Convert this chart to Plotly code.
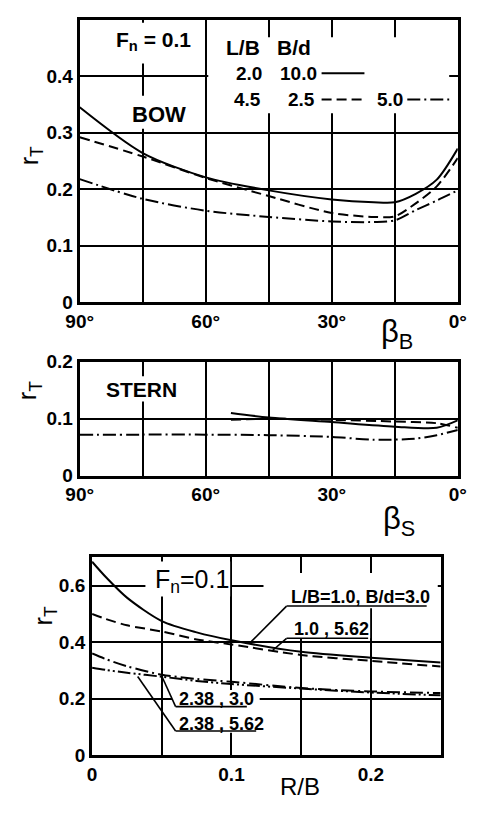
import plotly.graph_objects as go

# ---------------- data ----------------
beta_bow = [90, 75, 60, 45, 30, 20, 15, 10, 5, 0]
bow_solid = [0.345, 0.264, 0.221, 0.198, 0.182, 0.177, 0.177, 0.192, 0.217, 0.272]   # L/B=2.0, B/d=10.0
bow_dash = [0.292, 0.258, 0.220, 0.188, 0.158, 0.151, 0.152, 0.175, 0.205, 0.255]    # L/B=4.5, B/d=2.5
bow_dashdot = [0.218, 0.183, 0.162, 0.151, 0.143, 0.142, 0.145, 0.163, 0.180, 0.198] # L/B=4.5, B/d=5.0

beta_stern_a = [54, 45, 30, 15, 5, 0]
stern_solid = [0.110, 0.102, 0.094, 0.086, 0.084, 0.097]
stern_dash = [0.098, 0.100, 0.098, 0.095, 0.092, 0.084]
beta_stern_b = [90, 75, 60, 45, 30, 20, 10, 5, 0]
stern_dashdot = [0.072, 0.072, 0.072, 0.071, 0.068, 0.063, 0.065, 0.071, 0.080]

rb = [0, 0.01, 0.025, 0.05, 0.075, 0.1, 0.15, 0.2, 0.25]
rb_10_30 = [0.685, 0.630, 0.558, 0.475, 0.435, 0.407, 0.366, 0.345, 0.328]
rb_10_562 = [0.500, 0.482, 0.460, 0.438, 0.410, 0.392, 0.355, 0.334, 0.314]
rb_238_30 = [0.360, 0.340, 0.315, 0.285, 0.270, 0.260, 0.238, 0.226, 0.220]
rb_238_562 = [0.310, 0.302, 0.292, 0.278, 0.263, 0.252, 0.236, 0.222, 0.212]

beta_ticks = [90, 60, 30, 0]
beta_ticktext = ["90°", "60°", "30°", "0°"]
beta_minor = [75, 45, 15]
bow_yticks = [0, 0.1, 0.2, 0.3, 0.4]
bow_yticktext = ["0", "0.1", "0.2", "0.3", "0.4"]
stern_yticks = [0, 0.1, 0.2]
stern_yticktext = ["0", "0.1", "0.2"]
rb_xticks = [0, 0.1, 0.2]
rb_xticktext = ["0", "0.1", "0.2"]
rb_xminor = [0.05, 0.15]
rb_yticks = [0, 0.2, 0.4, 0.6]
rb_yticktext = ["0", "0.2", "0.4", "0.6"]

# ---------------- styling ----------------
W, H = 482, 813
FONT = "Liberation Sans, Arial, Helvetica, sans-serif"
DASH = "10px,5px"
DASHDOT = "13px,4px,2px,4px"
DASHDOTDOT = "13px,3px,2px,3px,2px,3px"
LW = 2


def px(x):
    return x / W


def py(y):
    return 1 - y / H


fig = go.Figure()


def add(x, y, dash, xa, ya):
    fig.add_trace(go.Scatter(x=x, y=y, mode="lines", xaxis=xa, yaxis=ya,
                             line=dict(color="black", width=LW, dash=dash, shape="spline", smoothing=0.8),
                             hoverinfo="skip"))


add(beta_bow, bow_solid, "solid", "x", "y")
add(beta_bow, bow_dash, DASH, "x", "y")
add(beta_bow, bow_dashdot, DASHDOT, "x", "y")
add(beta_stern_a, stern_solid, "solid", "x2", "y2")
add(beta_stern_a, stern_dash, DASH, "x2", "y2")
add(beta_stern_b, stern_dashdot, DASHDOT, "x2", "y2")
add(rb, rb_10_30, "solid", "x3", "y3")
add(rb, rb_10_562, DASH, "x3", "y3")
add(rb, rb_238_30, DASHDOT, "x3", "y3")
add(rb, rb_238_562, DASHDOTDOT, "x3", "y3")

axcommon = dict(showline=True, mirror=True, linecolor="black", linewidth=3,
                showgrid=True, gridcolor="black", gridwidth=2, zeroline=False,
                ticks="", tickfont=dict(family=FONT, size=19, color="black", weight="bold"),
                fixedrange=True, tickmode="array")


def minor(vals):
    return dict(tickvals=vals, showgrid=True, gridcolor="black", gridwidth=2, ticks="")


fig.update_layout(
    width=W, height=H, margin=dict(l=0, r=0, t=0, b=0),
    paper_bgcolor="white", plot_bgcolor="white", showlegend=False,
    font=dict(family=FONT, color="black"),
    xaxis=dict(domain=[px(69), px(466)], range=[90, 0], tickvals=beta_ticks,
               ticktext=beta_ticktext, anchor="y", minor=minor(beta_minor), **axcommon),
    yaxis=dict(domain=[py(300), py(10)], range=[0, 0.5], tickvals=bow_yticks,
               ticktext=bow_yticktext, anchor="x", **axcommon),
    xaxis2=dict(domain=[px(69), px(466)], range=[90, 0], tickvals=beta_ticks,
                ticktext=beta_ticktext, anchor="y2", minor=minor(beta_minor), **axcommon),
    yaxis2=dict(domain=[py(478), py(361)], range=[0, 0.2], tickvals=stern_yticks,
                ticktext=stern_yticktext, anchor="x2", **axcommon),
    xaxis3=dict(domain=[px(82), px(448)], range=[0, 0.25], tickvals=rb_xticks,
                ticktext=rb_xticktext, anchor="y3", minor=minor(rb_xminor), **axcommon),
    yaxis3=dict(domain=[py(765), py(562)], range=[0, 0.7], tickvals=rb_yticks,
                ticktext=rb_yticktext, anchor="x3", **axcommon),
)

shapes = []


def mask(x0, y0, x1, y1):
    shapes.append(dict(type="rect", xref="paper", yref="paper", x0=px(x0), x1=px(x1),
                       y0=py(y1), y1=py(y0), fillcolor="white", line=dict(width=0),
                       layer="above"))


# gaps in the grid behind the texts
mask(100, 13, 196, 55)
mask(115, 88, 182, 122)
mask(204, 28, 457, 106)
mask(90, 376, 175, 402)
mask(138, 566, 227, 602)
mask(262, 578, 445, 614)
mask(288, 612, 374, 645)
mask(166, 698, 258, 742)


def pline(x0, y0, x1, y1, dash="solid"):
    shapes.append(dict(type="line", xref="paper", yref="paper", x0=px(x0), y0=py(y0),
                       x1=px(x1), y1=py(y1), line=dict(color="black", width=LW, dash=dash),
                       layer="above"))


# legend samples
pline(323, 65, 368, 65)
pline(323, 92, 368, 92, DASH)
pline(413, 92, 457, 92, DASHDOT)


def dline(x0, y0, x1, y1):
    shapes.append(dict(type="line", xref="x3", yref="y3", x0=x0, y0=y0, x1=x1, y1=y1,
                       line=dict(color="black", width=1.6), layer="above"))


# leaders + underlines (bottom panel)
dline(0.1143, 0.403, 0.1395, 0.528)
dline(0.1395, 0.528, 0.240, 0.528)
dline(0.129, 0.369, 0.1395, 0.414)
dline(0.1395, 0.414, 0.198, 0.414)
dline(0.0497, 0.283, 0.0599, 0.172)
dline(0.0599, 0.172, 0.111, 0.172)
dline(0.0327, 0.279, 0.0599, 0.086)
dline(0.0599, 0.086, 0.1177, 0.086)

fig.update_layout(shapes=shapes)

ann = []


def text(x, y, s, size=18, bold=True, xanchor="left", angle=0):
    ann.append(dict(xref="paper", yref="paper", x=px(x), y=py(y), text=s,
                    showarrow=False, xanchor=xanchor, yanchor="middle", textangle=angle,
                    font=dict(family=FONT, size=size, color="black",
                              weight="bold" if bold else "normal")))


text(105, 32, "F<sub>n</sub> = 0.1", 21)
text(221, 38, "L/B", 21)
text(274, 38, "B/d", 21)
text(231, 65, "2.0", 19)
text(277, 65, "10.0", 19)
text(229, 92, "4.5", 19)
text(286, 92, "2.5", 19)
text(379, 92, "5.0", 19)
text(122, 107, "BOW", 22)
text(94, 390, "STERN", 21)
text(146, 586, "F<sub>n</sub>=0.1", 25, bold=False)
text(289, 603, "L/B=1.0, B/d=3.0", 18)
text(292, 635, "1.0 , 5.62", 18)
text(171, 707, "2.38 , 3.0", 18)
text(171, 733, "2.38 , 5.62", 18)

text(18, 150, "r<sub>T</sub>", 25, bold=False, xanchor="center", angle=-90)
text(16, 391, "r<sub>T</sub>", 25, bold=False, xanchor="center", angle=-90)
text(32, 622, "r<sub>T</sub>", 25, bold=False, xanchor="center", angle=-90)
text(383, 333, "β<sub>B</sub>", 31, bold=False)
text(385, 525, "β<sub>S</sub>", 31, bold=False)
text(300, 797, "R/B", 24, bold=False, xanchor="center")

fig.update_layout(annotations=ann)

fig.write_html("out.html")
